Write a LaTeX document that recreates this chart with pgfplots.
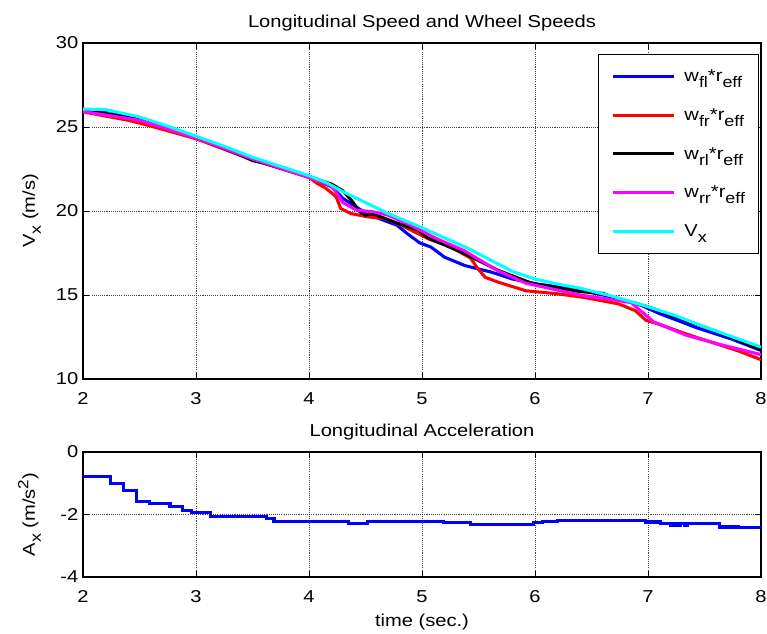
\documentclass[border=0pt]{standalone}
\usepackage{fontspec}
\setmainfont{Liberation Sans}[FakeStretch=1.17]
\usepackage{pgfplots}
\pgfplotsset{compat=1.18}

\definecolor{mblue}{rgb}{0,0,1}
\definecolor{mred}{rgb}{1,0,0}
\definecolor{mmagenta}{rgb}{1,0,1}
\definecolor{mcyan}{rgb}{0,1,1}

% MATLAB-like lowered subscript / raised superscript
\newcommand{\sub}[1]{\raisebox{-4.5pt}{\fontsize{11.5}{12}\selectfont #1}}
\newcommand{\super}[1]{\raisebox{5pt}{\fontsize{11}{12}\selectfont #1}}

\pgfplotsset{
  mlab/.style={
    scale only axis,
    width=508.5pt,
    xmin=2, xmax=8, xtick={2,3,...,8},
    font=\fontsize{12.9}{15}\selectfont,
    /pgf/number format/assume math mode=true,
    grid=major,
    major grid style={black!75, line width=0.5pt, dash pattern=on 0.8pt off 0.8pt},
    axis line style={line width=0.8pt},
    tick style={black, line width=0.6pt},
    major tick length=4.5pt,
    tick align=inside,
    xticklabel style={anchor=base, yshift=-19pt},
    every axis y label/.style={at={([xshift=-36pt]rel axis cs:0,0.5)}, rotate=90, anchor=base},
    every axis title/.style={at={([yshift=11.6pt]rel axis cs:0.5,1)}, anchor=base},
    every axis plot/.append style={line width=2.3pt},
  }
}

\begin{document}
\begin{tikzpicture}
\useasboundingbox (-62.25pt,-42.75pt) rectangle (513pt,432.75pt);

% upper panel: speeds
\begin{axis}[
  mlab,
  at={(0pt,148.5pt)},
  height=252pt,
  ymin=10, ymax=30, ytick={10,15,20,25,30},
  title={Longitudinal Speed and Wheel Speeds},
  ylabel={V\sub{x} (m/s)},
  legend style={
    at={(0.7596,0.967)}, anchor=north west,
    draw=black, line width=0.6pt,
    inner xsep=9.75pt, inner ysep=2pt,
    column sep=6.75pt,
    cells={anchor=west},
    nodes={inner sep=0pt, text height=18.5pt, text depth=10.5pt},
    font=\fontsize{12.9}{15}\selectfont,
  },
  legend image code/.code={\draw[#1] (0pt,0pt) -- (45.75pt,0pt);},
]
\addplot[mblue] coordinates {
  (2.00,26.05)(2.25,25.95)(2.50,25.5)(3.00,24.35)(3.50,23.1)(3.75,22.55)
  (4.00,22.0)(4.20,21.45)(4.30,20.75)(4.45,20.1)(4.60,19.6)(4.78,19.15)
  (4.87,18.65)(4.98,18.1)(5.08,17.85)(5.20,17.25)(5.38,16.75)(5.62,16.35)
  (5.80,15.95)(6.02,15.65)(6.35,15.35)(6.60,15.0)(6.90,14.5)(7.10,13.9)
  (7.43,13.05)(7.73,12.4)(8.00,11.7)
};
\addplot[mred] coordinates {
  (2.00,25.9)(2.40,25.4)(2.55,25.15)(3.00,24.3)(3.50,23.05)(4.00,22.0)
  (4.07,21.65)(4.15,21.35)(4.24,20.85)(4.28,20.15)(4.37,19.85)(4.52,19.65)
  (4.67,19.55)(4.82,19.15)(4.92,18.8)(5.07,18.3)(5.20,18.0)(5.31,17.65)
  (5.43,17.2)(5.49,16.6)(5.56,16.05)(5.68,15.75)(5.92,15.25)(6.20,15.07)
  (6.44,14.85)(6.74,14.47)(6.89,14.06)(6.98,13.5)(7.09,13.28)(7.33,12.7)
  (7.57,12.17)(7.80,11.67)(8.00,11.15)
};
\addplot[black] coordinates {
  (2.00,26.0)(2.50,25.5)(3.00,24.4)(3.40,23.3)(3.50,23.0)(3.60,22.85)
  (4.00,22.05)(4.20,21.6)(4.30,21.2)(4.38,20.6)(4.45,19.95)(4.50,19.75)
  (4.56,19.85)(4.75,19.35)(4.97,18.85)(5.05,18.4)(5.30,17.7)(5.50,17.05)
  (5.68,16.45)(5.97,15.7)(6.40,15.2)(6.60,15.1)(6.70,14.85)(7.00,14.3)
  (7.20,13.8)(7.50,13.1)(7.75,12.45)(8.00,11.75)
};
\addplot[mmagenta] coordinates {
  (2.00,25.92)(2.50,25.4)(3.00,24.35)(3.50,23.1)(4.00,22.0)(4.20,21.5)
  (4.30,20.5)(4.42,20.05)(4.57,19.95)(4.70,19.75)(4.90,19.15)(5.13,18.35)
  (5.37,17.65)(5.67,16.45)(5.92,15.7)(6.40,15.0)(6.85,14.55)(7.05,13.4)
  (7.34,12.6)(7.64,12.05)(8.00,11.45)
};
\addplot[mcyan] coordinates {
  (2.00,26.07)(2.20,26.03)(2.50,25.6)(2.75,25.05)(3.00,24.45)(3.25,23.85)
  (3.50,23.2)(3.75,22.65)(4.00,22.1)(4.15,21.7)(4.30,21.15)(4.50,20.5)
  (4.70,19.85)(5.00,19.0)(5.20,18.4)(5.40,17.8)(5.60,17.1)(5.80,16.4)
  (6.00,15.95)(6.20,15.65)(6.40,15.4)(6.70,14.9)(7.00,14.3)(7.25,13.75)
  (7.50,13.1)(7.75,12.5)(8.00,11.9)
};
\legend{w\sub{fl}*r\sub{eff}, w\sub{fr}*r\sub{eff}, w\sub{rl}*r\sub{eff}, w\sub{rr}*r\sub{eff}, V\sub{x}}
\end{axis}

% lower panel: acceleration
\begin{axis}[
  mlab,
  at={(0pt,0pt)},
  height=93.75pt,
  ymin=-4, ymax=0, ytick={-4,-2,0},
  title={Longitudinal Acceleration},
  ylabel={A\sub{x} (m/s\super{2})},
  xlabel={time (sec.)},
  every axis x label/.style={at={([yshift=-37.5pt]rel axis cs:0.5,0)}, anchor=base},
]
\addplot[mblue, const plot] coordinates {
  (2.00,-0.77)(2.24,-1.00)(2.36,-1.22)(2.47,-1.59)(2.59,-1.64)(2.77,-1.75)
  (2.88,-1.86)(2.96,-1.95)(3.13,-2.05)(3.62,-2.14)(3.69,-2.21)(4.35,-2.29)
  (4.52,-2.22)(5.19,-2.26)(5.43,-2.33)(5.99,-2.27)(6.07,-2.22)(6.20,-2.18)
  (6.98,-2.24)(7.11,-2.30)(7.20,-2.36)(7.23,-2.28)(7.26,-2.36)(7.29,-2.28)
  (7.32,-2.36)(7.35,-2.28)(7.63,-2.40)(7.80,-2.42)(8.00,-2.42)
};
\end{axis}
\end{tikzpicture}
\end{document}
